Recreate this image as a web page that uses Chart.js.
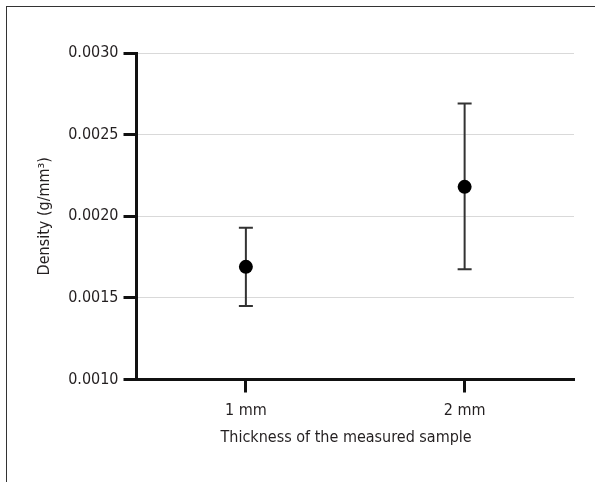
<!DOCTYPE html>
<html>
<head>
<meta charset="utf-8">
<script src="https://cdn.jsdelivr.net/npm/chart.js@4.4.1/dist/chart.umd.min.js"></script>
<style>
  html, body { margin: 0; padding: 0; background: #ffffff; }
  #wrap { position: relative; width: 595px; height: 482px; overflow: hidden; }
  #frame { position: absolute; left: 6px; top: 6px; width: 700px; height: 600px;
           border-left: 1px solid #333; border-top: 1px solid #333; }
  canvas { position: absolute; left: 0; top: 0; }
</style>
</head>
<body>
<div id="wrap">
  <div id="frame"></div>
  <canvas id="c" width="595" height="482"></canvas>
</div>
<script>
// ---- data ----
const categories = ['1 mm', '2 mm'];
const meanDensity = [0.00169, 0.00218];
const lowerBound  = [0.00145, 0.001675];
const upperBound  = [0.00193, 0.00269];
const yTickValues = [0.0010, 0.0015, 0.0020, 0.0025, 0.0030];
const xTitle = 'Thickness of the measured sample';
const yTitle = 'Density (g/mm³)';

const FONT = "'Liberation Sans Narrow', 'DejaVu Sans Condensed', 'Arial Narrow', sans-serif";
const FS = 16;
const TEXT = '#231f20';

const errorBars = {
  id: 'errorBars',
  beforeDatasetsDraw(chart) {
    const ctx = chart.ctx;
    const xs = chart.scales.x, ys = chart.scales.y;
    ctx.save();
    ctx.strokeStyle = '#333333';
    ctx.lineWidth = 2;
    const cap = 7;
    categories.forEach((c, i) => {
      const x = xs.getPixelForValue(i);
      const yl = ys.getPixelForValue(lowerBound[i]);
      const yh = ys.getPixelForValue(upperBound[i]);
      ctx.beginPath();
      ctx.moveTo(x, yl); ctx.lineTo(x, yh);
      ctx.moveTo(x - cap, yl); ctx.lineTo(x + cap, yl);
      ctx.moveTo(x - cap, yh); ctx.lineTo(x + cap, yh);
      ctx.stroke();
    });
    ctx.restore();
  }
};

new Chart(document.getElementById('c'), {
  type: 'line',
  data: {
    labels: categories,
    datasets: [{
      data: meanDensity,
      showLine: false,
      pointRadius: 7,
      pointHoverRadius: 7,
      pointBackgroundColor: '#000000',
      pointBorderColor: '#000000',
      pointBorderWidth: 0
    }]
  },
  options: {
    responsive: false,
    animation: false,
    events: [],
    layout: { padding: { left: 0, top: 53, right: 21, bottom: 0 } },
    plugins: { legend: { display: false }, tooltip: { enabled: false } },
    scales: {
      x: {
        type: 'category',
        offset: true,
        afterFit(s) { s.height = 102.5; },
        grid: { drawOnChartArea: false, drawTicks: true, tickLength: 13, tickColor: '#111111', tickWidth: 3 },
        border: { display: true, color: '#111111', width: 3 },
        ticks: { color: TEXT, font: { family: FONT, size: FS }, padding: 9 },
        title: { display: true, text: xTitle + '    ', color: TEXT, font: { family: FONT, size: FS }, padding: { top: 0, bottom: 34.4 } }
      },
      y: {
        min: 0.001, max: 0.003,
        afterFit(s) { s.width = 136.5; },
        afterBuildTicks(s) { s.ticks = yTickValues.map(v => ({ value: v })); },
        grid: { color: '#d9d9d9', lineWidth: 1, drawTicks: true, tickLength: 13, tickColor: '#111111', tickWidth: 3 },
        border: { display: true, color: '#111111', width: 3 },
        ticks: { color: TEXT, font: { family: FONT, size: FS }, padding: 5, callback: v => Number(v).toFixed(4) },
        title: { display: true, text: yTitle, color: TEXT, font: { family: FONT, size: FS }, padding: { top: 35.4, bottom: 0 } }
      }
    }
  },
  plugins: [errorBars]
});
</script>
</body>
</html>
